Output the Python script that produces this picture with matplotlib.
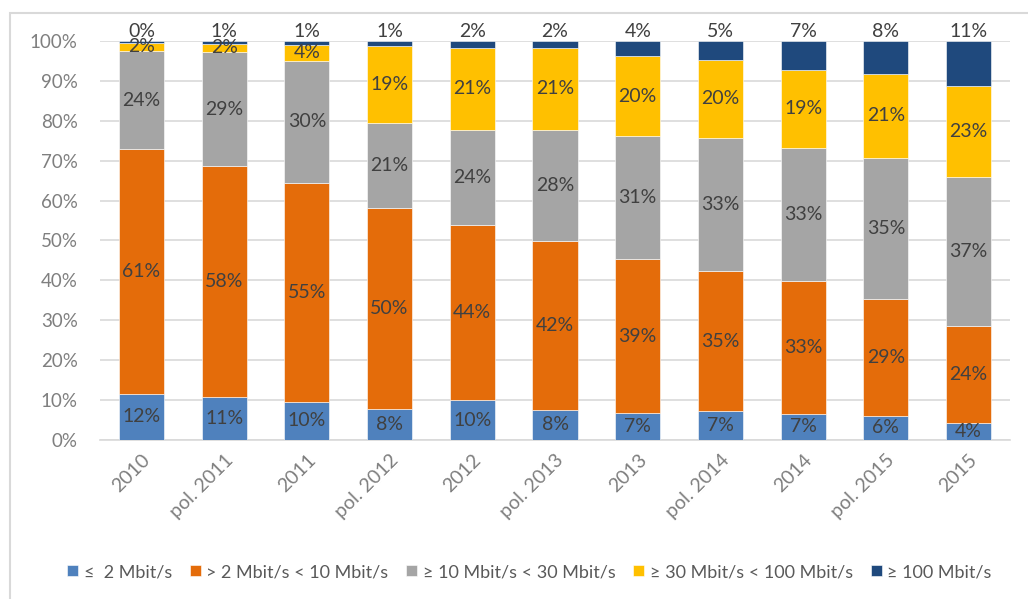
import numpy as np
import matplotlib
matplotlib.use('Agg')
import matplotlib.pyplot as plt
from matplotlib.patches import Rectangle

# categories and shares (%)
categories = ['2010', 'pol. 2011', '2011', 'pol. 2012', '2012', 'pol. 2013',
              '2013', 'pol. 2014', '2014', 'pol. 2015', '2015']
le2 = [11.6, 10.9, 9.6, 7.9, 10.0, 7.6, 6.7, 7.3, 6.6, 6.1, 4.2]
s2_10 = [61.4, 57.7, 54.9, 50.3, 43.8, 42.2, 38.7, 35.0, 33.3, 29.2, 24.4]
s10_30 = [24.4, 28.6, 30.4, 21.2, 23.9, 27.9, 30.8, 33.4, 33.4, 35.4, 37.2]
s30_100 = [2.2, 2.1, 4.2, 19.3, 20.6, 20.6, 20.0, 19.6, 19.4, 21.0, 22.9]
ge100 = [0.4, 0.7, 0.9, 1.3, 1.7, 1.7, 3.8, 4.7, 7.3, 8.3, 11.3]

series = [le2, s2_10, s10_30, s30_100, ge100]
labels = ['\u2264  2 Mbit/s', '> 2 Mbit/s < 10 Mbit/s', '\u2265 10 Mbit/s < 30 Mbit/s',
          '\u2265 30 Mbit/s < 100 Mbit/s', '\u2265 100 Mbit/s']
colors = ['#4F81BD', '#E46C0A', '#A5A5A5', '#FFC000', '#1F497D']

plt.rcParams['font.family'] = ['Lato', 'DejaVu Sans']

fig = plt.figure(figsize=(10.28, 5.99), dpi=100)
ax = fig.add_axes([0.0973, 0.2654, 0.8852, 0.6662])

x = np.arange(len(categories))
bottom = np.zeros(len(categories))
for i, (vals, lbl, c) in enumerate(zip(series, labels, colors)):
    vals = np.array(vals)
    ax.bar(x, vals, 0.545, bottom=bottom, color=c, label=lbl,
           edgecolor='white', linewidth=0.4, zorder=3)
    for xi, b, v in zip(x, bottom, vals):
        if i == len(series) - 1:
            ax.text(xi, 100.3, f'{v:.0f}%', ha='center', va='bottom',
                    fontsize=14, color='#404040', zorder=4)
        else:
            ax.text(xi, b + v / 2, f'{v:.0f}%', ha='center', va='center',
                    fontsize=14, color='#404040', zorder=4)
    bottom += vals

ax.set_xlim(-0.5, len(categories) - 0.5)
ax.set_ylim(0, 100)
ax.set_yticks(np.arange(0, 101, 10))
ax.set_yticklabels([f'{t}%' for t in range(0, 101, 10)])
ax.yaxis.grid(True, color='#D9D9D9', linewidth=1.2, zorder=0)
ax.set_axisbelow(True)
for s in ['top', 'right', 'left']:
    ax.spines[s].set_visible(False)
ax.spines['bottom'].set_color('#D9D9D9')
ax.spines['bottom'].set_linewidth(1.2)
ax.tick_params(axis='y', length=0, labelsize=13.5, labelcolor='#7F7F7F', pad=16)
ax.tick_params(axis='x', length=0, labelsize=14, labelcolor='#7F7F7F', pad=8)
ax.set_xticks(x)
ax.set_xticklabels(categories, rotation=45, ha='right', rotation_mode='anchor')

leg = fig.legend(loc='center', bbox_to_anchor=(0.515, 0.045), ncol=5, frameon=False,
                 handlelength=0.6, handleheight=0.6, handletextpad=0.3,
                 columnspacing=1.0, prop={'size': 13})
for t in leg.get_texts():
    t.set_color('#595959')

# chart area border (only left and top edges fall inside the image)
fig.patches.append(Rectangle((10 / 1028, -0.05), 1.2, 1 - 13 / 599 + 0.05,
                             transform=fig.transFigure, fill=False,
                             edgecolor='#D9D9D9', linewidth=1.5))

plt.savefig('out.png', dpi=100)
